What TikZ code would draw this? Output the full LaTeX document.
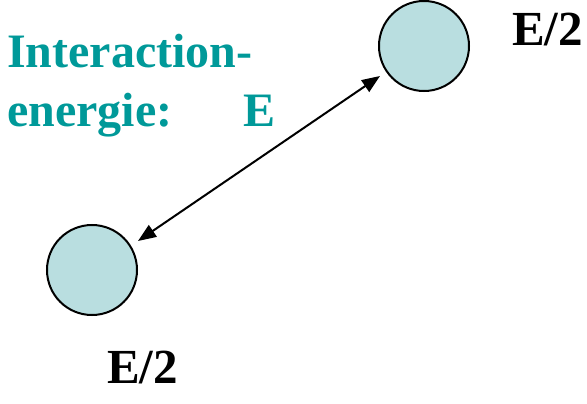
\documentclass[tikz,border=0pt]{standalone}
\usepackage{fontspec}
\setmainfont{Liberation Serif}
\usetikzlibrary{arrows.meta}
\definecolor{teal1}{RGB}{0,153,153}
\definecolor{ball}{RGB}{185,222,224}
\begin{document}
\begin{tikzpicture}[x=1pt,y=-1pt,
  ballstyle/.style={circle,draw=black,line width=2pt,fill=ball,minimum size=90pt,inner sep=0pt},
  lab/.style={anchor=base west,inner sep=0pt,font=\fontsize{49}{58}\selectfont\bfseries},
  tlab/.style={lab,font=\fontsize{48}{58}\selectfont\bfseries,text=teal1}]
\useasboundingbox (0,0) rectangle (587,404);
\node[ballstyle] (b1) at (424,46) {};
\node[ballstyle] (b2) at (92,270) {};
\coordinate (a1) at (380,76);
\coordinate (a2) at (138,241);
\draw[line width=2pt,{Triangle[length=18pt,width=14pt]}-{Triangle[length=18pt,width=14pt]}] (a2) -- (a1);
\node[tlab] (t1) at (7,68) {Interaction-};
\node[tlab] (t2) at (7,126) {energie:};
\node[tlab] (t3) at (243,126) {E};
\node[lab] (e1) at (512,46) {E/2};
\node[lab] (e2) at (107,383) {E/2};
\end{tikzpicture}
\end{document}
